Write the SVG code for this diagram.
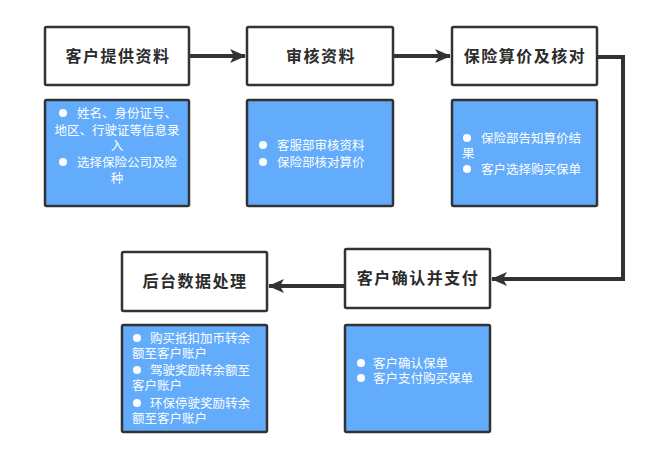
<svg xmlns="http://www.w3.org/2000/svg" width="664" height="473" viewBox="0 0 664 473">
<defs>
<style>
.t{fill:#fff;stroke:#333;stroke-width:2.5}
.b{fill:#62acfb;stroke:#333;stroke-width:2.5}
.h{font-family:"Noto Sans CJK SC","Noto Sans",sans-serif;font-size:16px;font-weight:bold;fill:#2b2b2b;letter-spacing:1.5px;text-anchor:middle}
.w{font-family:"Noto Sans CJK SC","Noto Sans",sans-serif;font-size:12.5px;fill:#fff}
.c{text-anchor:middle}
.d{fill:#fff}
.k{fill:none;stroke:#333;stroke-width:4}
</style>
<marker id="ah" markerUnits="userSpaceOnUse" markerWidth="16" markerHeight="16" viewBox="0 0 16 16" refX="15" refY="8" orient="auto">
<path d="M0,1 L16,8 L0,15 L4,8 Z" fill="#333"/>
</marker>
</defs>
<rect width="664" height="473" fill="#fff"/>
<g id="connectors">
<path class="k" d="M189,56 H245" marker-end="url(#ah)"/>
<path class="k" d="M393,56 H450" marker-end="url(#ah)"/>
<path class="k" d="M597,57 H623 V279 H492" marker-end="url(#ah)"/>
<path class="k" d="M345,286 H269" marker-end="url(#ah)"/>
</g>
<g id="n1">
<rect class="t" x="45" y="27" width="144" height="58" rx="1.5"/>
<text class="h" x="118" y="62">客户提供资料</text>
</g>
<g id="n1d">
<rect class="b" x="45" y="100" width="144" height="106" rx="1.5"/>
<circle class="d" cx="63" cy="113" r="4"/>
<text class="w" x="77" y="117.5">姓名、身份证号、</text>
<text class="w c" x="117" y="134.5">地区、行驶证等信息录</text>
<text class="w c" x="117" y="150">入</text>
<circle class="d" cx="63" cy="162" r="4"/>
<text class="w" x="77" y="166.5">选择保险公司及险</text>
<text class="w c" x="117" y="182.5">种</text>
</g>
<g id="n2">
<rect class="t" x="247" y="27" width="146" height="58" rx="1.5"/>
<text class="h" x="321" y="62">审核资料</text>
</g>
<g id="n2d">
<rect class="b" x="247" y="100" width="146" height="106" rx="1.5"/>
<circle class="d" cx="263" cy="145" r="4"/>
<text class="w" x="277" y="149.5">客服部审核资料</text>
<circle class="d" cx="263" cy="162" r="4"/>
<text class="w" x="277" y="166.5">保险部核对算价</text>
</g>
<g id="n3">
<rect class="t" x="452" y="27" width="145" height="58" rx="1.5"/>
<text class="h" x="525" y="62">保险算价及核对</text>
</g>
<g id="n3d">
<rect class="b" x="452" y="100" width="145" height="106" rx="1.5"/>
<circle class="d" cx="467" cy="138" r="4"/>
<text class="w" x="481" y="142.5">保险部告知算价结</text>
<text class="w" x="462" y="158">果</text>
<circle class="d" cx="467" cy="169" r="4"/>
<text class="w" x="481" y="173.5">客户选择购买保单</text>
</g>
<g id="n5">
<rect class="t" x="345" y="249" width="145" height="59" rx="1.5"/>
<text class="h" x="418" y="284">客户确认并支付</text>
</g>
<g id="n5d">
<rect class="b" x="345" y="325" width="145" height="107" rx="1.5"/>
<circle class="d" cx="361" cy="363" r="4"/>
<text class="w" x="373" y="367.5">客户确认保单</text>
<circle class="d" cx="361" cy="378" r="4"/>
<text class="w" x="373" y="382.5">客户支付购买保单</text>
</g>
<g id="n4">
<rect class="t" x="122" y="252" width="145" height="59" rx="1.5"/>
<text class="h" x="195" y="287">后台数据处理</text>
</g>
<g id="n4d">
<rect class="b" x="122" y="325" width="145" height="107" rx="1.5"/>
<circle class="d" cx="137" cy="338" r="4"/>
<text class="w" x="150" y="342.5">购买抵扣加币转余</text>
<text class="w" x="132" y="357.5">额至客户账户</text>
<circle class="d" cx="137" cy="370" r="4"/>
<text class="w" x="150" y="374.5">驾驶奖励转余额至</text>
<text class="w" x="132" y="389.5">客户账户</text>
<circle class="d" cx="137" cy="403" r="4"/>
<text class="w" x="150" y="407.5">环保停驶奖励转余</text>
<text class="w" x="132" y="422.5">额至客户账户</text>
</g>
</svg>
